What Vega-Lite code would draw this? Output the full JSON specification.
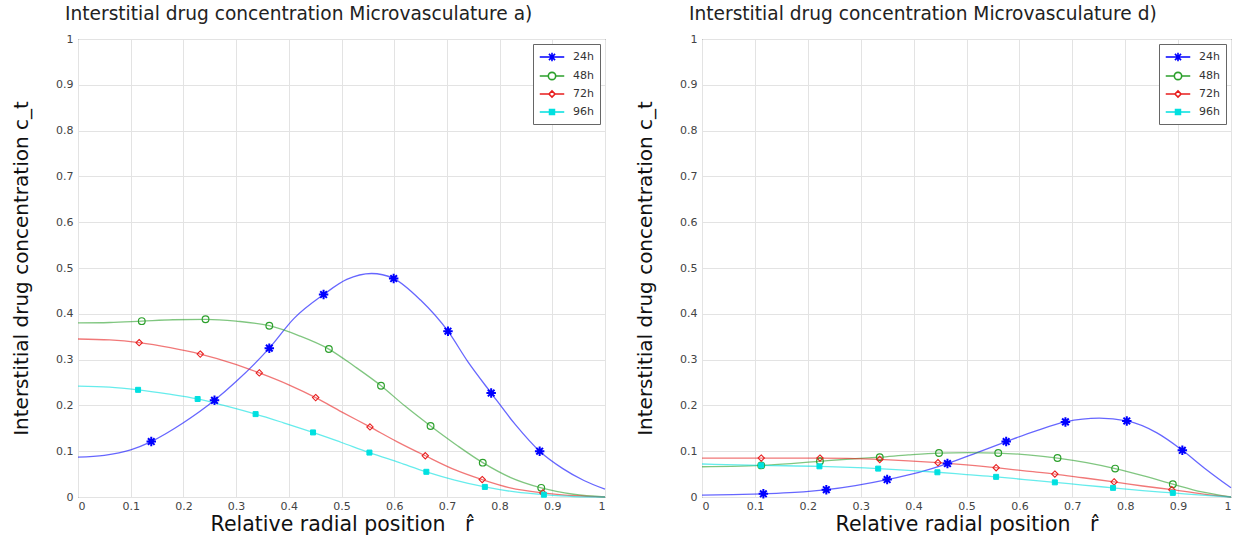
{
  "$schema": "https://vega.github.io/schema/vega-lite/v6.json",
  "background": "white",
  "padding": {"left": 11, "top": 4, "right": 10, "bottom": 5},
  "config": {
    "font": "DejaVu Sans",
    "view": {"stroke": "#333", "strokeWidth": 1},
    "axis": {"grid": true, "gridColor": "#e3e3e3", "domain": false, "ticks": false, "labelColor": "#444", "labelFontSize": 11, "labelFont": "DejaVu Sans", "titleFont": "DejaVu Sans", "titleColor": "#111", "titleFontWeight": "normal", "titleFontSize": 20},
    "axisX": {"titleFontSize": 20.5},
    "title": {"fontSize": 18.6, "fontWeight": "normal", "color": "#222", "anchor": "start", "frame": "group", "offset": 9},
    "legend": {"orient": "top-right", "offset": 5, "title": null, "strokeColor": "#666", "fillColor": "white", "padding": 6, "symbolSize": 150, "symbolOffset": 6, "labelOffset": 14, "labelFontSize": 11, "labelColor": "#333", "rowPadding": 4, "symbolStrokeWidth": 1.6},
    "concat": {"spacing": 26}
  },
  "resolve": {"legend": {"color": "independent"}, "scale": {"color": "independent"}},
  "datasets": {
    "curves": [
      {"panel":"a","series":"24h","r":0,"c":0.087},{"panel":"a","series":"24h","r":0.05,"c":0.091},{"panel":"a","series":"24h","r":0.1,"c":0.103},{"panel":"a","series":"24h","r":0.139,"c":0.121},{"panel":"a","series":"24h","r":0.2,"c":0.162},{"panel":"a","series":"24h","r":0.259,"c":0.211},{"panel":"a","series":"24h","r":0.3,"c":0.252},{"panel":"a","series":"24h","r":0.363,"c":0.325},{"panel":"a","series":"24h","r":0.41,"c":0.39},{"panel":"a","series":"24h","r":0.466,"c":0.442},{"panel":"a","series":"24h","r":0.51,"c":0.475},{"panel":"a","series":"24h","r":0.557,"c":0.488},{"panel":"a","series":"24h","r":0.599,"c":0.477},{"panel":"a","series":"24h","r":0.65,"c":0.43},{"panel":"a","series":"24h","r":0.702,"c":0.362},{"panel":"a","series":"24h","r":0.74,"c":0.295},{"panel":"a","series":"24h","r":0.784,"c":0.227},{"panel":"a","series":"24h","r":0.83,"c":0.158},{"panel":"a","series":"24h","r":0.876,"c":0.1},{"panel":"a","series":"24h","r":0.92,"c":0.062},{"panel":"a","series":"24h","r":0.96,"c":0.036},{"panel":"a","series":"24h","r":1.0,"c":0.017},
      {"panel":"a","series":"48h","r":0,"c":0.38},{"panel":"a","series":"48h","r":0.06,"c":0.381},{"panel":"a","series":"48h","r":0.121,"c":0.384},{"panel":"a","series":"48h","r":0.18,"c":0.387},{"panel":"a","series":"48h","r":0.242,"c":0.388},{"panel":"a","series":"48h","r":0.3,"c":0.384},{"panel":"a","series":"48h","r":0.363,"c":0.374},{"panel":"a","series":"48h","r":0.42,"c":0.352},{"panel":"a","series":"48h","r":0.476,"c":0.323},{"panel":"a","series":"48h","r":0.525,"c":0.285},{"panel":"a","series":"48h","r":0.575,"c":0.243},{"panel":"a","series":"48h","r":0.62,"c":0.199},{"panel":"a","series":"48h","r":0.669,"c":0.155},{"panel":"a","series":"48h","r":0.72,"c":0.112},{"panel":"a","series":"48h","r":0.768,"c":0.075},{"panel":"a","series":"48h","r":0.82,"c":0.043},{"panel":"a","series":"48h","r":0.879,"c":0.02},{"panel":"a","series":"48h","r":0.94,"c":0.006},{"panel":"a","series":"48h","r":1.0,"c":0.0},
      {"panel":"a","series":"72h","r":0,"c":0.345},{"panel":"a","series":"72h","r":0.06,"c":0.343},{"panel":"a","series":"72h","r":0.116,"c":0.337},{"panel":"a","series":"72h","r":0.175,"c":0.326},{"panel":"a","series":"72h","r":0.232,"c":0.312},{"panel":"a","series":"72h","r":0.29,"c":0.293},{"panel":"a","series":"72h","r":0.344,"c":0.271},{"panel":"a","series":"72h","r":0.4,"c":0.245},{"panel":"a","series":"72h","r":0.451,"c":0.217},{"panel":"a","series":"72h","r":0.5,"c":0.186},{"panel":"a","series":"72h","r":0.554,"c":0.153},{"panel":"a","series":"72h","r":0.605,"c":0.121},{"panel":"a","series":"72h","r":0.659,"c":0.09},{"panel":"a","series":"72h","r":0.71,"c":0.062},{"panel":"a","series":"72h","r":0.767,"c":0.038},{"panel":"a","series":"72h","r":0.82,"c":0.02},{"panel":"a","series":"72h","r":0.882,"c":0.009},{"panel":"a","series":"72h","r":0.94,"c":0.003},{"panel":"a","series":"72h","r":1.0,"c":0.0},
      {"panel":"a","series":"96h","r":0,"c":0.242},{"panel":"a","series":"96h","r":0.06,"c":0.24},{"panel":"a","series":"96h","r":0.114,"c":0.234},{"panel":"a","series":"96h","r":0.17,"c":0.225},{"panel":"a","series":"96h","r":0.227,"c":0.214},{"panel":"a","series":"96h","r":0.28,"c":0.199},{"panel":"a","series":"96h","r":0.337,"c":0.181},{"panel":"a","series":"96h","r":0.39,"c":0.162},{"panel":"a","series":"96h","r":0.446,"c":0.141},{"panel":"a","series":"96h","r":0.5,"c":0.119},{"panel":"a","series":"96h","r":0.553,"c":0.097},{"panel":"a","series":"96h","r":0.61,"c":0.075},{"panel":"a","series":"96h","r":0.661,"c":0.055},{"panel":"a","series":"96h","r":0.715,"c":0.037},{"panel":"a","series":"96h","r":0.772,"c":0.022},{"panel":"a","series":"96h","r":0.83,"c":0.011},{"panel":"a","series":"96h","r":0.884,"c":0.005},{"panel":"a","series":"96h","r":0.94,"c":0.001},{"panel":"a","series":"96h","r":1.0,"c":0.0},
      {"panel":"d","series":"24h","r":0,"c":0.004},{"panel":"d","series":"24h","r":0.058,"c":0.005},{"panel":"d","series":"24h","r":0.116,"c":0.007},{"panel":"d","series":"24h","r":0.175,"c":0.01},{"panel":"d","series":"24h","r":0.235,"c":0.016},{"panel":"d","series":"24h","r":0.29,"c":0.025},{"panel":"d","series":"24h","r":0.35,"c":0.038},{"panel":"d","series":"24h","r":0.41,"c":0.054},{"panel":"d","series":"24h","r":0.464,"c":0.073},{"panel":"d","series":"24h","r":0.52,"c":0.097},{"panel":"d","series":"24h","r":0.575,"c":0.121},{"panel":"d","series":"24h","r":0.63,"c":0.144},{"panel":"d","series":"24h","r":0.687,"c":0.164},{"panel":"d","series":"24h","r":0.751,"c":0.172},{"panel":"d","series":"24h","r":0.803,"c":0.166},{"panel":"d","series":"24h","r":0.86,"c":0.14},{"panel":"d","series":"24h","r":0.908,"c":0.102},{"panel":"d","series":"24h","r":0.95,"c":0.063},{"panel":"d","series":"24h","r":1.0,"c":0.02},
      {"panel":"d","series":"48h","r":0,"c":0.066},{"panel":"d","series":"48h","r":0.056,"c":0.067},{"panel":"d","series":"48h","r":0.112,"c":0.069},{"panel":"d","series":"48h","r":0.168,"c":0.073},{"panel":"d","series":"48h","r":0.223,"c":0.078},{"panel":"d","series":"48h","r":0.28,"c":0.083},{"panel":"d","series":"48h","r":0.336,"c":0.087},{"panel":"d","series":"48h","r":0.39,"c":0.092},{"panel":"d","series":"48h","r":0.448,"c":0.096},{"panel":"d","series":"48h","r":0.504,"c":0.097},{"panel":"d","series":"48h","r":0.56,"c":0.096},{"panel":"d","series":"48h","r":0.616,"c":0.092},{"panel":"d","series":"48h","r":0.672,"c":0.085},{"panel":"d","series":"48h","r":0.727,"c":0.075},{"panel":"d","series":"48h","r":0.781,"c":0.062},{"panel":"d","series":"48h","r":0.835,"c":0.046},{"panel":"d","series":"48h","r":0.89,"c":0.028},{"panel":"d","series":"48h","r":0.945,"c":0.011},{"panel":"d","series":"48h","r":1.0,"c":0.0},
      {"panel":"d","series":"72h","r":0,"c":0.085},{"panel":"d","series":"72h","r":0.112,"c":0.085},{"panel":"d","series":"72h","r":0.223,"c":0.085},{"panel":"d","series":"72h","r":0.336,"c":0.082},{"panel":"d","series":"72h","r":0.39,"c":0.079},{"panel":"d","series":"72h","r":0.446,"c":0.075},{"panel":"d","series":"72h","r":0.5,"c":0.07},{"panel":"d","series":"72h","r":0.556,"c":0.064},{"panel":"d","series":"72h","r":0.61,"c":0.057},{"panel":"d","series":"72h","r":0.667,"c":0.05},{"panel":"d","series":"72h","r":0.72,"c":0.042},{"panel":"d","series":"72h","r":0.779,"c":0.033},{"panel":"d","series":"72h","r":0.833,"c":0.024},{"panel":"d","series":"72h","r":0.888,"c":0.016},{"panel":"d","series":"72h","r":0.945,"c":0.007},{"panel":"d","series":"72h","r":1.0,"c":0.0},
      {"panel":"d","series":"96h","r":0,"c":0.072},{"panel":"d","series":"96h","r":0.112,"c":0.069},{"panel":"d","series":"96h","r":0.222,"c":0.067},{"panel":"d","series":"96h","r":0.333,"c":0.062},{"panel":"d","series":"96h","r":0.39,"c":0.058},{"panel":"d","series":"96h","r":0.445,"c":0.054},{"panel":"d","series":"96h","r":0.5,"c":0.049},{"panel":"d","series":"96h","r":0.556,"c":0.044},{"panel":"d","series":"96h","r":0.61,"c":0.038},{"panel":"d","series":"96h","r":0.667,"c":0.032},{"panel":"d","series":"96h","r":0.72,"c":0.026},{"panel":"d","series":"96h","r":0.777,"c":0.02},{"panel":"d","series":"96h","r":0.833,"c":0.014},{"panel":"d","series":"96h","r":0.89,"c":0.009},{"panel":"d","series":"96h","r":0.945,"c":0.004},{"panel":"d","series":"96h","r":1.0,"c":0.0}
    ],
    "markers": [
      {"panel":"a","series":"24h","r":0.139,"c":0.121},{"panel":"a","series":"24h","r":0.259,"c":0.211},{"panel":"a","series":"24h","r":0.363,"c":0.325},{"panel":"a","series":"24h","r":0.466,"c":0.442},{"panel":"a","series":"24h","r":0.599,"c":0.477},{"panel":"a","series":"24h","r":0.702,"c":0.362},{"panel":"a","series":"24h","r":0.784,"c":0.227},{"panel":"a","series":"24h","r":0.876,"c":0.1},
      {"panel":"a","series":"48h","r":0.121,"c":0.384},{"panel":"a","series":"48h","r":0.242,"c":0.388},{"panel":"a","series":"48h","r":0.363,"c":0.374},{"panel":"a","series":"48h","r":0.476,"c":0.323},{"panel":"a","series":"48h","r":0.575,"c":0.243},{"panel":"a","series":"48h","r":0.669,"c":0.155},{"panel":"a","series":"48h","r":0.768,"c":0.075},{"panel":"a","series":"48h","r":0.879,"c":0.02},
      {"panel":"a","series":"72h","r":0.116,"c":0.337},{"panel":"a","series":"72h","r":0.232,"c":0.312},{"panel":"a","series":"72h","r":0.344,"c":0.271},{"panel":"a","series":"72h","r":0.451,"c":0.217},{"panel":"a","series":"72h","r":0.554,"c":0.153},{"panel":"a","series":"72h","r":0.659,"c":0.09},{"panel":"a","series":"72h","r":0.767,"c":0.038},{"panel":"a","series":"72h","r":0.882,"c":0.009},
      {"panel":"a","series":"96h","r":0.114,"c":0.234},{"panel":"a","series":"96h","r":0.227,"c":0.214},{"panel":"a","series":"96h","r":0.337,"c":0.181},{"panel":"a","series":"96h","r":0.446,"c":0.141},{"panel":"a","series":"96h","r":0.553,"c":0.097},{"panel":"a","series":"96h","r":0.661,"c":0.055},{"panel":"a","series":"96h","r":0.772,"c":0.022},{"panel":"a","series":"96h","r":0.884,"c":0.005},
      {"panel":"d","series":"24h","r":0.116,"c":0.007},{"panel":"d","series":"24h","r":0.235,"c":0.016},{"panel":"d","series":"24h","r":0.35,"c":0.038},{"panel":"d","series":"24h","r":0.464,"c":0.073},{"panel":"d","series":"24h","r":0.575,"c":0.121},{"panel":"d","series":"24h","r":0.687,"c":0.164},{"panel":"d","series":"24h","r":0.803,"c":0.166},{"panel":"d","series":"24h","r":0.908,"c":0.102},
      {"panel":"d","series":"48h","r":0.112,"c":0.069},{"panel":"d","series":"48h","r":0.223,"c":0.078},{"panel":"d","series":"48h","r":0.336,"c":0.087},{"panel":"d","series":"48h","r":0.448,"c":0.096},{"panel":"d","series":"48h","r":0.56,"c":0.096},{"panel":"d","series":"48h","r":0.672,"c":0.085},{"panel":"d","series":"48h","r":0.781,"c":0.062},{"panel":"d","series":"48h","r":0.89,"c":0.028},
      {"panel":"d","series":"72h","r":0.112,"c":0.085},{"panel":"d","series":"72h","r":0.223,"c":0.085},{"panel":"d","series":"72h","r":0.336,"c":0.082},{"panel":"d","series":"72h","r":0.446,"c":0.075},{"panel":"d","series":"72h","r":0.556,"c":0.064},{"panel":"d","series":"72h","r":0.667,"c":0.05},{"panel":"d","series":"72h","r":0.779,"c":0.033},{"panel":"d","series":"72h","r":0.888,"c":0.016},
      {"panel":"d","series":"96h","r":0.112,"c":0.069},{"panel":"d","series":"96h","r":0.222,"c":0.067},{"panel":"d","series":"96h","r":0.333,"c":0.062},{"panel":"d","series":"96h","r":0.445,"c":0.054},{"panel":"d","series":"96h","r":0.556,"c":0.044},{"panel":"d","series":"96h","r":0.667,"c":0.032},{"panel":"d","series":"96h","r":0.777,"c":0.02},{"panel":"d","series":"96h","r":0.89,"c":0.009}
    ]
  },
  "hconcat": [
    {
      "width": 527, "height": 458,
      "title": {"text": "Interstitial drug concentration Microvasculature a)", "dx": -13},
      "encoding": {
        "x": {"field": "r", "type": "quantitative", "scale": {"domain": [0, 1], "nice": false}, "axis": {"values": [0,0.1,0.2,0.3,0.4,0.5,0.6,0.7,0.8,0.9,1], "format": "~g", "labelPadding": 3, "titlePadding": 3}, "title": "Relative radial position\u00a0\u00a0 r̂"},
        "y": {"field": "c", "type": "quantitative", "scale": {"domain": [0, 1], "nice": false}, "axis": {"values": [0,0.1,0.2,0.3,0.4,0.5,0.6,0.7,0.8,0.9,1], "format": "~g", "labelPadding": 5, "titlePadding": 24}, "title": "Interstitial drug concentration c_t"}
      },
      "layer": [
        {
          "data": {"name": "curves"},
          "transform": [{"filter": "datum.panel === 'a'"}],
          "mark": {"type": "line", "interpolate": "monotone", "strokeWidth": 1.3, "strokeOpacity": 0.6},
          "encoding": {
            "color": {"field": "series", "type": "nominal", "scale": {"domain": ["24h","48h","72h","96h"], "range": ["#0000ff","#2ca02c","#e81e1e","#00e0e0"]},
              "legend": {
                "encode": {"symbols": {"update": {
                  "shape": {"signal": "datum.value === '24h' ? 'M-2,0H2M-0.7,0H0.7M0,-0.7V0.7M-0.5,-0.5L0.5,0.5M-0.5,0.5L0.5,-0.5' : datum.value === '48h' ? 'M-2,0H-0.6M0.6,0H2M-0.6,0A0.6,0.6 0 1,0 0.6,0A0.6,0.6 0 1,0 -0.6,0' : datum.value === '72h' ? 'M-2,0H-0.5M0.5,0H2M-0.5,0L0,-0.5L0.5,0L0,0.5Z' : 'M-2,0H2M-0.4,-0.4H0.4V0.4H-0.4ZM-0.4,-0.2H0.4M-0.4,0.2H0.4'"},
                  "fill": {"value": "transparent"},
                  "opacity": {"value": 1},
                  "strokeOpacity": {"value": 1}
                }}}}}
          }
        },
        {"data": {"name": "markers"}, "transform": [{"filter": "datum.panel === 'a' && datum.series === '24h'"}], "mark": {"type": "point", "shape": "M-1,0H1M0,-1V1M-0.7,-0.7L0.7,0.7M-0.7,0.7L0.7,-0.7", "size": 90, "stroke": "#0000ff", "strokeWidth": 2, "fill": "transparent", "opacity": 1}},
        {"data": {"name": "markers"}, "transform": [{"filter": "datum.panel === 'a' && datum.series === '48h'"}], "mark": {"type": "point", "shape": "circle", "size": 45, "stroke": "#2ca02c", "strokeWidth": 1.2, "fill": "transparent", "opacity": 1}},
        {"data": {"name": "markers"}, "transform": [{"filter": "datum.panel === 'a' && datum.series === '72h'"}], "mark": {"type": "point", "shape": "M0,-1L1,0L0,1L-1,0Z", "size": 40, "stroke": "#e81e1e", "strokeWidth": 1.1, "fill": "transparent", "opacity": 1}},
        {"data": {"name": "markers"}, "transform": [{"filter": "datum.panel === 'a' && datum.series === '96h'"}], "mark": {"type": "point", "shape": "square", "size": 25, "stroke": "#00e0e0", "strokeWidth": 1, "fill": "#00e0e0", "filled": true, "opacity": 1}}
      ]
    },
    {
      "width": 529, "height": 458,
      "title": {"text": "Interstitial drug concentration Microvasculature d)", "dx": -13},
      "encoding": {
        "x": {"field": "r", "type": "quantitative", "scale": {"domain": [0, 1], "nice": false}, "axis": {"values": [0,0.1,0.2,0.3,0.4,0.5,0.6,0.7,0.8,0.9,1], "format": "~g", "labelPadding": 3, "titlePadding": 3}, "title": "Relative radial position\u00a0\u00a0 r̂"},
        "y": {"field": "c", "type": "quantitative", "scale": {"domain": [0, 1], "nice": false}, "axis": {"values": [0,0.1,0.2,0.3,0.4,0.5,0.6,0.7,0.8,0.9,1], "format": "~g", "labelPadding": 5, "titlePadding": 24}, "title": "Interstitial drug concentration c_t"}
      },
      "layer": [
        {
          "data": {"name": "curves"},
          "transform": [{"filter": "datum.panel === 'd'"}],
          "mark": {"type": "line", "interpolate": "monotone", "strokeWidth": 1.3, "strokeOpacity": 0.6},
          "encoding": {
            "color": {"field": "series", "type": "nominal", "scale": {"domain": ["24h","48h","72h","96h"], "range": ["#0000ff","#2ca02c","#e81e1e","#00e0e0"]},
              "legend": {
                "encode": {"symbols": {"update": {
                  "shape": {"signal": "datum.value === '24h' ? 'M-2,0H2M-0.7,0H0.7M0,-0.7V0.7M-0.5,-0.5L0.5,0.5M-0.5,0.5L0.5,-0.5' : datum.value === '48h' ? 'M-2,0H-0.6M0.6,0H2M-0.6,0A0.6,0.6 0 1,0 0.6,0A0.6,0.6 0 1,0 -0.6,0' : datum.value === '72h' ? 'M-2,0H-0.5M0.5,0H2M-0.5,0L0,-0.5L0.5,0L0,0.5Z' : 'M-2,0H2M-0.4,-0.4H0.4V0.4H-0.4ZM-0.4,-0.2H0.4M-0.4,0.2H0.4'"},
                  "fill": {"value": "transparent"},
                  "opacity": {"value": 1},
                  "strokeOpacity": {"value": 1}
                }}}}}
          }
        },
        {"data": {"name": "markers"}, "transform": [{"filter": "datum.panel === 'd' && datum.series === '24h'"}], "mark": {"type": "point", "shape": "M-1,0H1M0,-1V1M-0.7,-0.7L0.7,0.7M-0.7,0.7L0.7,-0.7", "size": 90, "stroke": "#0000ff", "strokeWidth": 2, "fill": "transparent", "opacity": 1}},
        {"data": {"name": "markers"}, "transform": [{"filter": "datum.panel === 'd' && datum.series === '48h'"}], "mark": {"type": "point", "shape": "circle", "size": 45, "stroke": "#2ca02c", "strokeWidth": 1.2, "fill": "transparent", "opacity": 1}},
        {"data": {"name": "markers"}, "transform": [{"filter": "datum.panel === 'd' && datum.series === '72h'"}], "mark": {"type": "point", "shape": "M0,-1L1,0L0,1L-1,0Z", "size": 40, "stroke": "#e81e1e", "strokeWidth": 1.1, "fill": "transparent", "opacity": 1}},
        {"data": {"name": "markers"}, "transform": [{"filter": "datum.panel === 'd' && datum.series === '96h'"}], "mark": {"type": "point", "shape": "square", "size": 25, "stroke": "#00e0e0", "strokeWidth": 1, "fill": "#00e0e0", "filled": true, "opacity": 1}}
      ]
    }
  ]
}
